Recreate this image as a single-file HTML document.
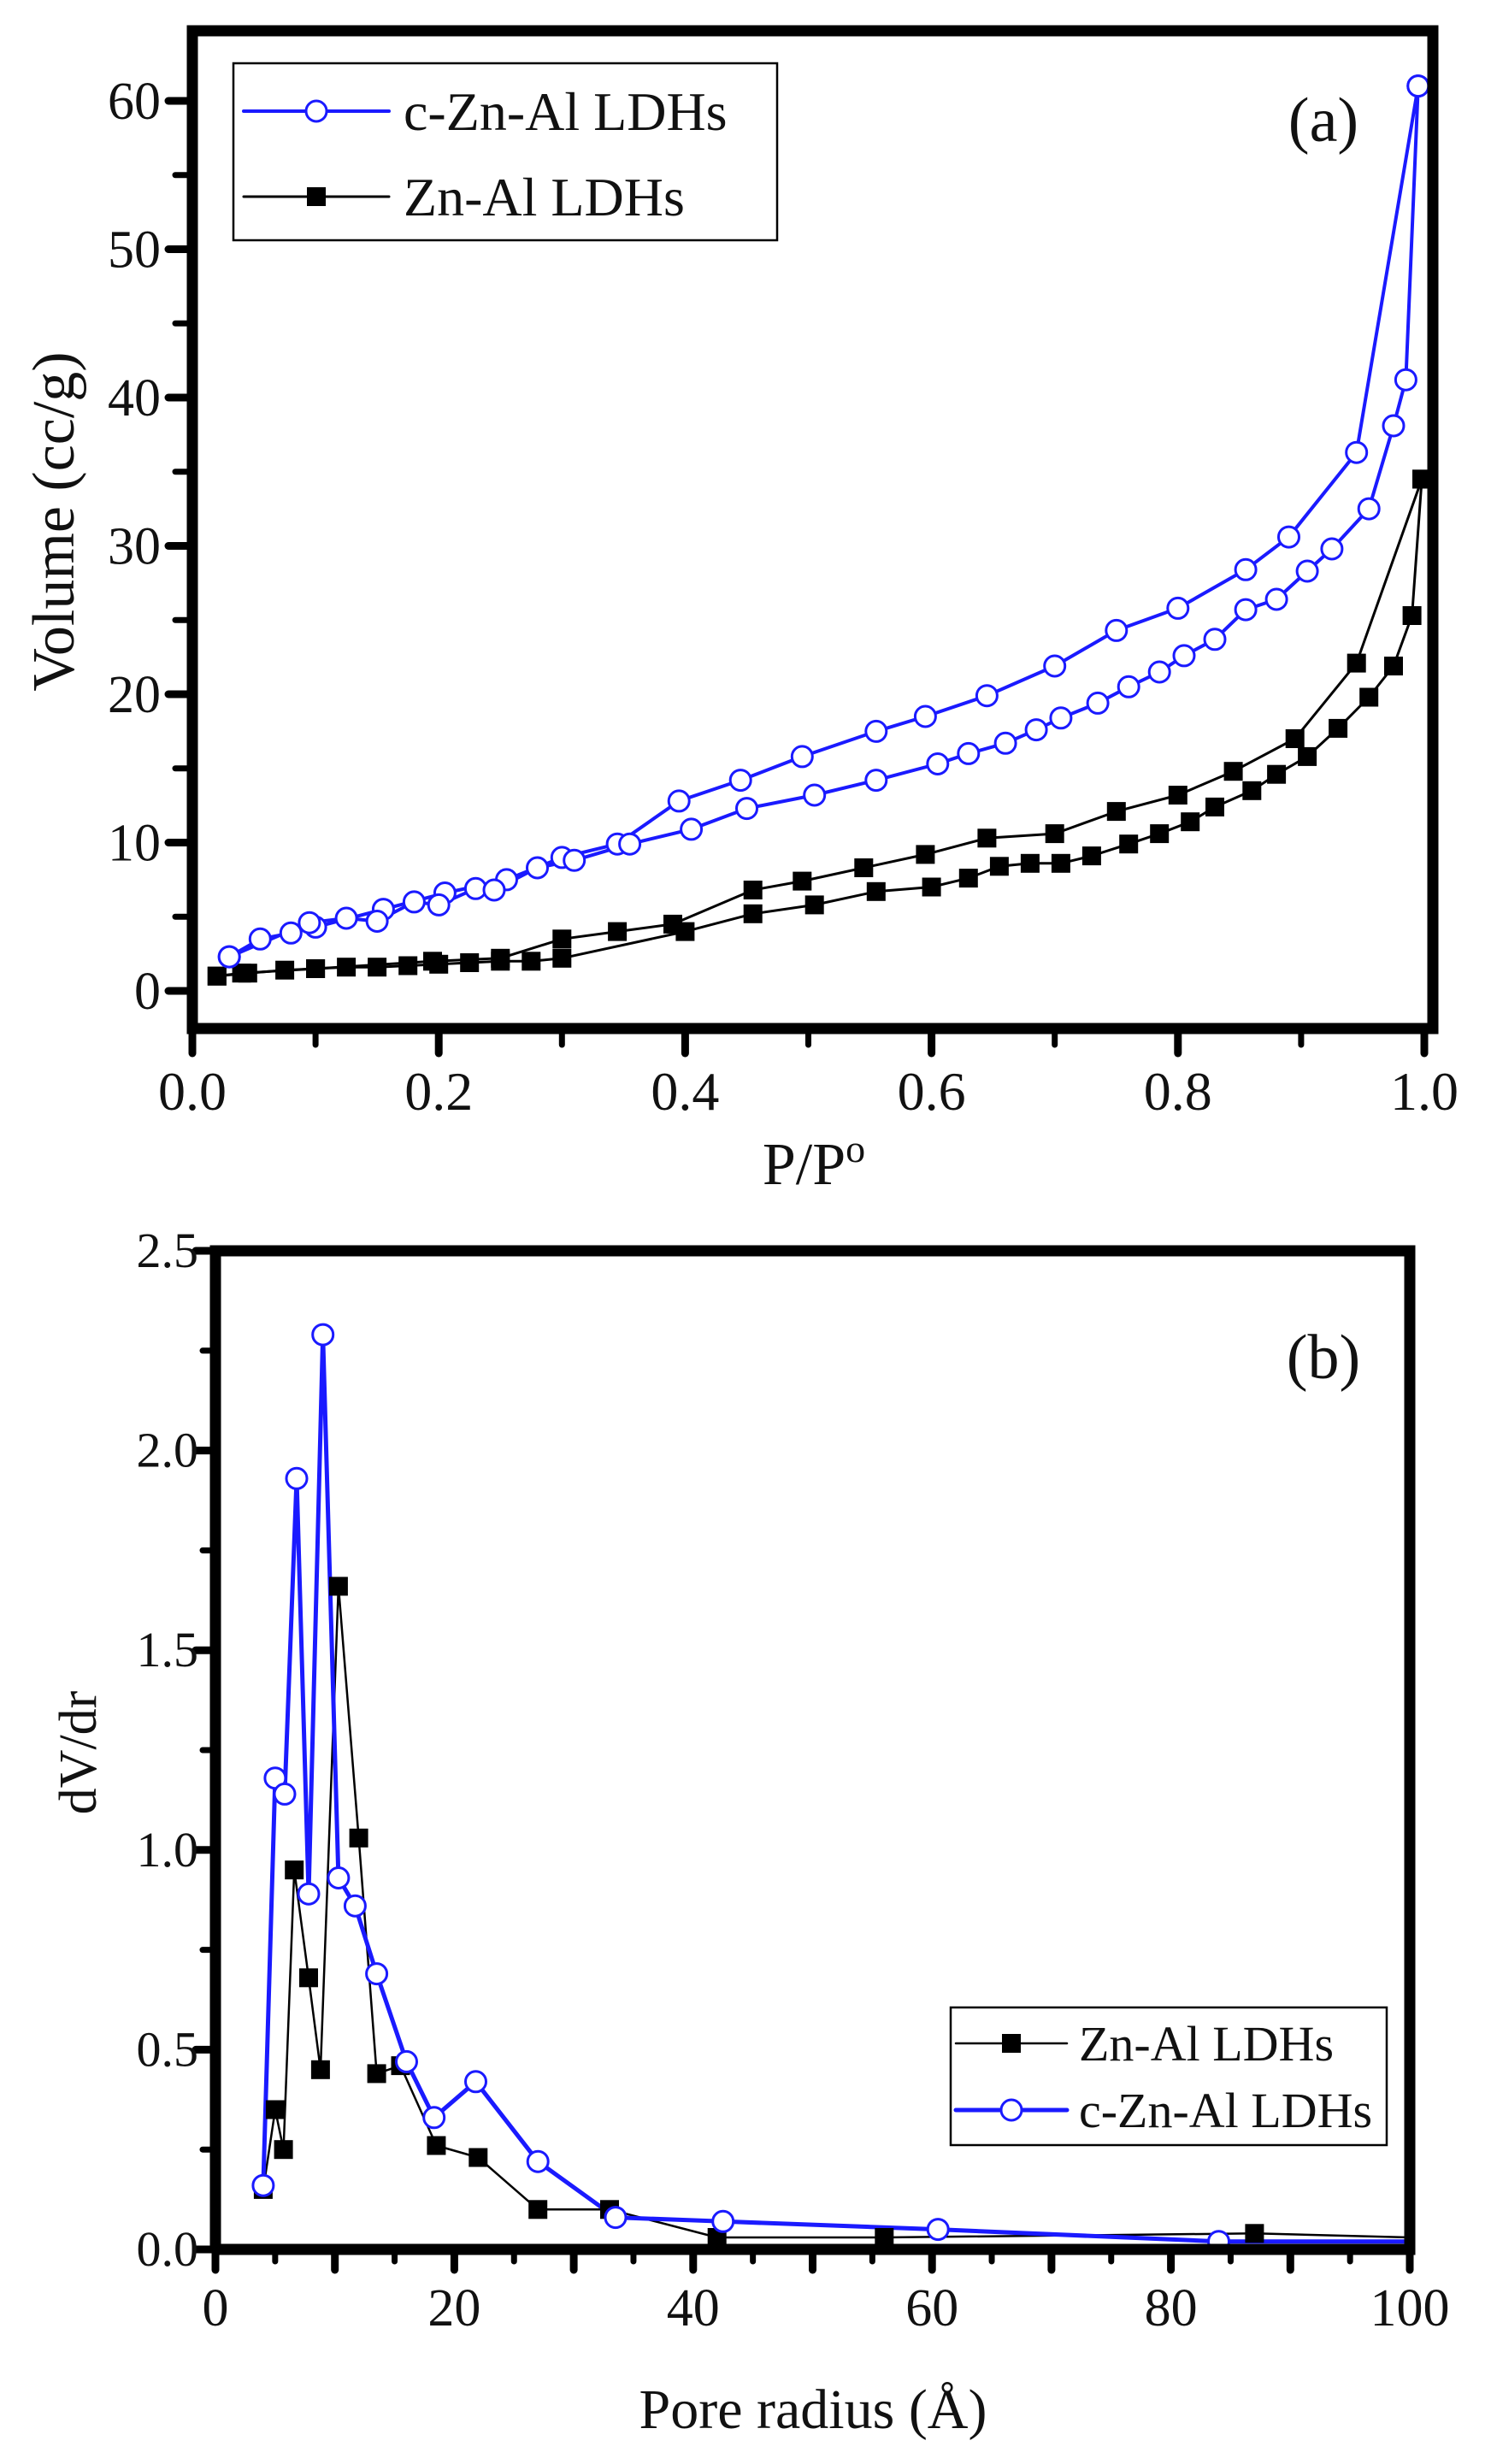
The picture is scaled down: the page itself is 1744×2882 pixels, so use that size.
<!DOCTYPE html>
<html><head><meta charset="utf-8"><style>
html,body{margin:0;padding:0;background:#fff}
svg{display:block}
text{font-family:"Liberation Serif",serif;fill:#111}
</style></head><body>
<svg id="s" width="1744" height="2882" viewBox="0 0 1744 2882" xmlns="http://www.w3.org/2000/svg"></svg>
<script>
var s=document.getElementById('s'),o='';
function L(x1,y1,x2,y2,c,w){o+='<line x1="'+x1+'" y1="'+y1+'" x2="'+x2+'" y2="'+y2+'" stroke="'+c+'" stroke-width="'+w+'" stroke-linecap="round"/>';}
function T(x,y,t,sz,anc,extra){o+='<text x="'+x+'" y="'+y+'" font-size="'+sz+'" text-anchor="'+(anc||'middle')+'" '+(extra||'')+'>'+t+'</text>';}
function poly(pts,fx,fy,c,w){o+='<polyline fill="none" stroke="'+c+'" stroke-width="'+w+'" stroke-linejoin="round" points="'+pts.map(function(p){return fx(p[0]).toFixed(1)+','+fy(p[1]).toFixed(1)}).join(' ')+'"/>';}
function circ(pts,fx,fy,r){pts.forEach(function(p){o+='<circle cx="'+fx(p[0]).toFixed(1)+'" cy="'+fy(p[1]).toFixed(1)+'" r="'+r+'" fill="#fff" stroke="#1a1aff" stroke-width="3"/>';});}
function sq(pts,fx,fy,h){pts.forEach(function(p){o+='<rect x="'+(fx(p[0])-h).toFixed(1)+'" y="'+(fy(p[1])-h).toFixed(1)+'" width="'+2*h+'" height="'+2*h+'" fill="#000"/>';});}

/* ---------- panel a ---------- */
var ax=function(v){return 225+v*1441}, ay=function(v){return 1159-v*17.35};
var cU=[[0.03,2.3],[0.055,3.5],[0.08,3.9],[0.1,4.3],[0.155,5.5],[0.205,6.6],[0.255,7.5],[0.3,9.0],[0.345,9.9],[0.395,12.8],[0.445,14.2],[0.495,15.8],[0.555,17.5],[0.595,18.5],[0.645,19.9],[0.7,21.9],[0.75,24.3],[0.8,25.8],[0.855,28.4],[0.89,30.6],[0.945,36.3],[0.995,61]];
var cL=[[0.03,2.3],[0.095,4.6],[0.125,4.9],[0.15,4.7],[0.18,6.0],[0.2,5.8],[0.23,6.9],[0.245,6.8],[0.28,8.3],[0.31,8.8],[0.355,9.9],[0.405,10.9],[0.45,12.3],[0.505,13.2],[0.555,14.2],[0.605,15.3],[0.63,16.0],[0.66,16.7],[0.685,17.6],[0.705,18.4],[0.735,19.4],[0.76,20.5],[0.785,21.5],[0.805,22.6],[0.83,23.7],[0.855,25.7],[0.88,26.4],[0.905,28.3],[0.925,29.8],[0.955,32.5],[0.975,38.1],[0.985,41.2],[0.995,61]];
var bU=[[0.02,1.0],[0.04,1.2],[0.1,1.5],[0.195,2.0],[0.25,2.2],[0.3,3.5],[0.345,4.0],[0.39,4.5],[0.455,6.8],[0.495,7.4],[0.545,8.3],[0.595,9.2],[0.645,10.3],[0.7,10.6],[0.75,12.1],[0.8,13.2],[0.845,14.8],[0.895,17.0],[0.945,22.1],[0.998,34.5]];
var bL=[[0.02,1.0],[0.045,1.2],[0.075,1.4],[0.1,1.5],[0.125,1.6],[0.15,1.6],[0.175,1.7],[0.2,1.8],[0.225,1.9],[0.25,2.0],[0.275,2.0],[0.3,2.2],[0.4,4.0],[0.455,5.2],[0.505,5.8],[0.555,6.7],[0.6,7.0],[0.63,7.6],[0.655,8.4],[0.68,8.6],[0.705,8.6],[0.73,9.1],[0.76,9.9],[0.785,10.6],[0.81,11.4],[0.83,12.4],[0.86,13.5],[0.88,14.6],[0.905,15.8],[0.93,17.7],[0.955,19.8],[0.975,21.9],[0.99,25.3],[0.998,34.5]];
poly(bU,ax,ay,'#000',3);poly(bL,ax,ay,'#000',3);
poly(cU,ax,ay,'#1a1aff',4);poly(cL,ax,ay,'#1a1aff',4);
sq(bU,ax,ay,11);sq(bL,ax,ay,11);
circ(cU,ax,ay,12);circ(cL,ax,ay,12);
o+='<rect x="225" y="36" width="1451" height="1167" fill="none" stroke="#000" stroke-width="13"/>';
for(var i=0;i<=12;i++){var v=i*5,y=ay(v);L(225,y,i%2?205:197,y,'#000',i%2?7:9);}
for(var i=0;i<=6;i++){T(188,ay(i*10)+21,String(i*10),62,'end');}
for(var i=0;i<=10;i++){var x=ax(i/10);L(x,1203,x,i%2?1222:1232,'#000',i%2?7:9);}
for(var i=0;i<=5;i++){T(ax(i*0.2),1298,(i*0.2).toFixed(1),64);}
T(952,1385,'P/P<tspan font-size="46" dy="-26">o</tspan>',70);
T(0,0,'Volume (cc/g)',70,'middle','transform="translate(86,610) rotate(-90)"');
T(1548,165,'(a)',74);
o+='<rect x="273" y="74" width="636" height="207" fill="#fff" stroke="#000" stroke-width="2.5"/>';
L(285,130,455,130,'#1a1aff',4);o+='<circle cx="370" cy="130" r="12" fill="#fff" stroke="#1a1aff" stroke-width="3"/>';
T(472,152,'c-Zn-Al LDHs',64,'start');
L(285,230,455,230,'#000',3);o+='<rect x="359" y="219" width="22" height="22"/>';
T(472,252,'Zn-Al LDHs',64,'start');

/* ---------- panel b ---------- */
var bx=function(v){return 252+v*13.97}, by=function(v){return 2631-v*467.2};
var zS=[[4,0.15],[5,0.35],[5.7,0.25],[6.6,0.95],[7.8,0.68],[8.8,0.45],[10.3,1.66],[12,1.03],[13.5,0.44],[15.5,0.46],[18.5,0.26],[22,0.23],[27,0.10],[33,0.10],[42,0.03],[56,0.03],[87,0.04]];
var zC=[[4,0.16],[5,1.18],[5.8,1.14],[6.8,1.93],[7.8,0.89],[9,2.29],[10.3,0.93],[11.7,0.86],[13.5,0.69],[16,0.47],[18.3,0.33],[21.8,0.42],[27,0.22],[33.5,0.08],[42.5,0.07],[60.5,0.05],[84,0.02]];
poly(zS.concat([[100,0.03]]),bx,by,'#000',2.5);
poly(zC.concat([[100,0.02]]),bx,by,'#1a1aff',5);
sq(zS,bx,by,11);circ(zC,bx,by,12);
o+='<polyline points="252,2631 252,1463 1649,1463 1649,2631 252,2631" fill="none" stroke="#000" stroke-width="13" stroke-linejoin="miter"/>';
for(var i=0;i<=10;i++){var y=by(i*0.25);L(252,y,i%2?237:229,y,'#000',i%2?7:9);}
for(var i=0;i<=5;i++){T(232,by(i*0.5)+19,(i*0.5).toFixed(1),58,'end');}
for(var i=0;i<=20;i++){var x=bx(i*5);L(x,2631,x,i%2?2645:2655,'#000',i%2?7:9);}
for(var i=0;i<=5;i++){T(bx(i*20),2720,String(i*20),62);}
T(951,2840,'Pore radius (Å)',66);
T(0,0,'dV/dr',62,'middle','transform="translate(112,2050) rotate(-90)"');
T(1548,1612,'(b)',74);
o+='<rect x="1112" y="2348" width="510" height="161" fill="#fff" stroke="#000" stroke-width="2.5"/>';
L(1118,2390,1248,2390,'#000',2.5);o+='<rect x="1172" y="2379" width="22" height="22"/>';
T(1262,2410,'Zn-Al LDHs',58,'start');
L(1118,2468,1248,2468,'#1a1aff',5);o+='<circle cx="1183" cy="2468" r="12" fill="#fff" stroke="#1a1aff" stroke-width="3"/>';
T(1262,2488,'c-Zn-Al LDHs',58,'start');
s.innerHTML=o;
</script>
</body></html>
